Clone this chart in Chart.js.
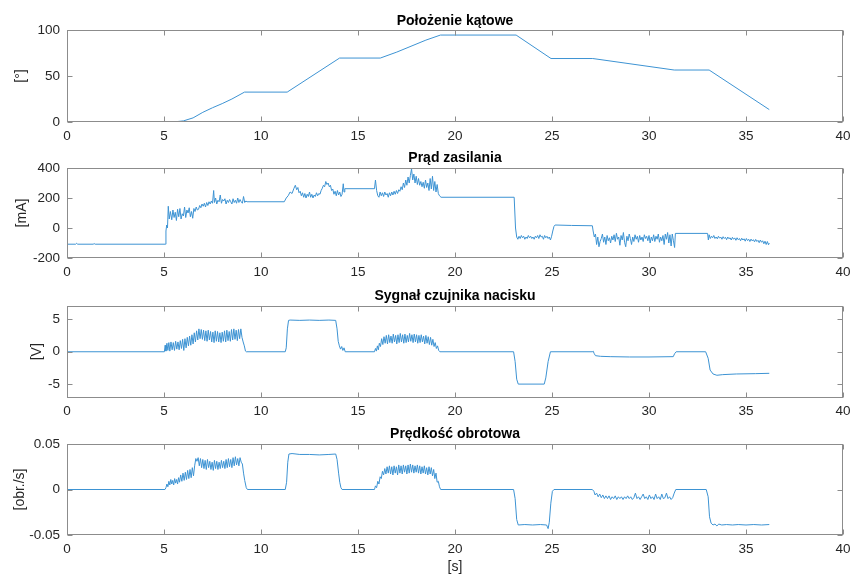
<!DOCTYPE html>
<html>
<head>
<meta charset="utf-8">
<script src="https://cdn.jsdelivr.net/npm/chart.js@4"></script>
<style>
  body { margin: 0; background: #fff; }
  #wrap { position: relative; width: 850px; height: 574px; overflow: hidden; }
  #wrap canvas { position: absolute; left: 0; }
</style>
</head>
<body>
<div id="wrap">
  <canvas id="c1" width="850" height="147" style="top:0px"></canvas>
  <canvas id="c2" width="850" height="145" style="top:138px"></canvas>
  <canvas id="c3" width="850" height="145" style="top:276px"></canvas>
  <canvas id="c4" width="850" height="160" style="top:414px"></canvas>
</div>
<script>
// x axis (time, s)
const timeTicks = [0, 5, 10, 15, 20, 25, 30, 35, 40];

// Położenie kątowe [°]
const angleTicks = [0, 50, 100];
const angleT = [0, 5.2, 5.6, 6.0, 6.5, 7.0, 7.5, 8.0, 8.5, 9.15, 11.35, 14.05, 16.15, 17.0, 18.5, 19.25, 23.15, 24.95, 27.1, 31.3, 33.1, 36.2];
const angleV = [0, 0, 0.3, 1.2, 4.5, 10.5, 15.5, 20, 25, 32.5, 32.5, 69.5, 69.5, 76, 89, 94.5, 94.5, 69, 69, 56.5, 56.5, 13.5];

// Prąd zasilania [mA]
const currentTicks = [-200, 0, 200, 400];
const currentT = [
  0, 0.45, 0.5, 0.55, 1.35, 1.4, 1.45, 5.08,
  5.1, 5.14, 5.18, 5.22, 5.27, 5.33, 5.4, 5.46, 5.52, 5.58, 5.64, 5.7, 5.76, 5.82, 5.88, 5.94, 6.0, 6.06, 6.12, 6.18, 6.24, 6.3, 6.36, 6.42, 6.48, 6.54, 6.6, 6.66, 6.72, 6.78, 6.84, 6.9, 6.96, 7.02, 7.08, 7.14, 7.2, 7.26, 7.32, 7.38, 7.44, 7.5, 7.56, 7.6, 7.66, 7.72, 7.78, 7.84, 7.9, 7.96, 8.02, 8.08, 8.14, 8.2, 8.26, 8.32, 8.38, 8.44, 8.5, 8.56, 8.62, 8.68, 8.74, 8.8, 8.86, 8.92, 8.98, 9.04, 9.1, 9.16, 9.22, 9.28,
  11.2, 11.3, 11.4, 11.5, 11.6, 11.7, 11.77, 11.84, 11.9, 11.96, 12.02, 12.08, 12.14, 12.2, 12.26, 12.32, 12.38, 12.44, 12.5, 12.56, 12.62, 12.68, 12.74, 12.8, 12.86, 12.92, 12.98, 13.04, 13.1, 13.16, 13.22, 13.28, 13.34, 13.4, 13.46, 13.52, 13.58, 13.64, 13.7, 13.76, 13.82, 13.88, 13.94, 14.0, 14.06, 14.12, 14.18, 14.24, 14.28, 14.32,
  15.85, 15.9, 15.96, 16.02, 16.08, 16.14, 16.2, 16.26, 16.32, 16.38, 16.44, 16.5, 16.56, 16.62, 16.68, 16.74, 16.8, 16.86, 16.92, 16.98, 17.04, 17.1, 17.16, 17.22, 17.28, 17.34, 17.4, 17.46, 17.52, 17.58, 17.64, 17.7, 17.76, 17.82, 17.88, 17.94, 18.0, 18.06, 18.12, 18.18, 18.24, 18.3, 18.36, 18.42, 18.48, 18.54, 18.6, 18.66, 18.72, 18.78, 18.84, 18.9, 18.96, 19.02, 19.08, 19.14, 19.2, 19.28,
  23.05, 23.12, 23.18, 23.24, 23.3, 23.36, 23.42, 23.48, 23.54, 23.6, 23.66, 23.72, 23.78, 23.84, 23.9, 23.96, 24.02, 24.08, 24.14, 24.2, 24.26, 24.32, 24.38, 24.44, 24.5, 24.56, 24.62, 24.68, 24.74, 24.8, 24.86, 24.92, 24.98, 25.04, 25.1, 25.16, 26.0, 27.08,
  27.12, 27.18, 27.24, 27.3, 27.36, 27.42, 27.48, 27.54, 27.6, 27.66, 27.72, 27.78, 27.84, 27.9, 27.96, 28.02, 28.08, 28.14, 28.2, 28.26, 28.32, 28.38, 28.44, 28.5, 28.56, 28.62, 28.68, 28.74, 28.8, 28.86, 28.92, 28.98, 29.04, 29.1, 29.16, 29.22, 29.28, 29.34, 29.4, 29.46, 29.52, 29.58, 29.64, 29.7, 29.76, 29.82, 29.88, 29.94, 30.0, 30.06, 30.12, 30.18, 30.24, 30.3, 30.36, 30.42, 30.48, 30.54, 30.6, 30.66, 30.72, 30.78, 30.84, 30.9, 30.96, 31.02, 31.08, 31.14, 31.2, 31.26, 31.32, 31.36,
  33.02, 33.06, 33.1, 33.16, 33.22, 33.28, 33.34, 33.4, 33.46, 33.52, 33.58, 33.64, 33.7, 33.76, 33.82, 33.88, 33.94, 34.0, 34.06, 34.12, 34.18, 34.24, 34.3, 34.36, 34.42, 34.48, 34.54, 34.6, 34.66, 34.72, 34.78, 34.84, 34.9, 34.96, 35.02, 35.08, 35.14, 35.2, 35.26, 35.32, 35.38, 35.44, 35.5, 35.56, 35.62, 35.68, 35.74, 35.8, 35.86, 35.92, 35.98, 36.04, 36.1, 36.16, 36.2
];
const currentV = [
  -108, -108, -102, -108, -108, -104, -108, -108,
  -20, 20, 0, 145, 60, 110, 55, 120, 70, 105, 50, 125, 75, 130, 60, 95, 80, 140, 70, 120, 100, 135, 75, 110, 65, 130, 110, 140, 120, 125, 150, 135, 160, 145, 165, 140, 170, 150, 175, 160, 180, 165, 250, 170, 200, 160, 185, 175, 220, 165, 190, 180, 195, 160, 185, 170, 190, 175, 160, 195, 170, 185, 165, 200, 170, 190, 175, 165, 210, 170, 180, 175,
  175, 200, 215, 240, 230, 265, 285, 255, 270, 235, 245, 215, 235, 205, 230, 200, 225, 210, 240, 205, 225, 200, 220, 210, 235, 215, 230, 225, 250, 265, 285, 275, 310, 290, 300, 275, 285, 250, 260, 225, 245, 215, 250, 220, 240, 210, 225, 295, 240, 262,
  262, 320, 250, 215, 205, 240, 215, 235, 210, 240, 220, 230, 205, 235, 215, 240, 220, 245, 225, 250, 230, 255, 245, 275, 255, 300, 270, 320, 285, 340, 300, 350, 395, 320, 360, 300, 345, 290, 330, 285, 310, 275, 305, 265, 320, 270, 300, 250, 330, 260, 345, 250, 310, 240, 290, 230, 215, 205,
  205, 0, -60, -75, -55, -70, -50, -65, -55, -75, -60, -70, -50, -65, -55, -70, -60, -75, -55, -65, -50, -70, -45, -60, -55, -75, -50, -65, -55, -70, -60, -80, -55, -20, 10, 20, 17, 15,
  -20, -60, -40, -110, -60, -125, -90, -70, -40, -95, -60, -110, -50, -85, -65, -100, -55, -80, -45, -90, -35, -75, -60, -115, -50, -80, -30, -95, -125, -55, -85, -40, -70, -110, -60, -90, -45, -75, -55, -95, -50, -80, -60, -90, -45, -70, -55, -85, -50, -100, -60, -85, -45, -90, -55, -75, -40, -95, -60, -85, -50, -110, -40, -75, -30, -100, -45, -120, -40, -85, -130, -36,
  -36, -80, -45, -70, -55, -65, -50, -70, -60, -72, -55, -68, -60, -75, -58, -70, -62, -78, -60, -72, -65, -80, -62, -75, -66, -82, -65, -78, -70, -85, -68, -80, -72, -88, -70, -84, -75, -90, -74, -86, -78, -92, -76, -90, -82, -98, -80, -95, -85, -105, -88, -110, -90, -112, -100
];

// Sygnał czujnika nacisku [V]
const sensorTicks = [-5, 0, 5];
const sensorT = [
  0, 5.02,
  5.06, 5.1, 5.15, 5.2, 5.25, 5.3, 5.36, 5.42, 5.48, 5.54, 5.6, 5.66, 5.72, 5.78, 5.84, 5.9, 5.96, 6.02, 6.08, 6.14, 6.2, 6.26, 6.32, 6.38, 6.44, 6.5, 6.56, 6.62, 6.68, 6.74, 6.8, 6.86, 6.92, 6.98, 7.04, 7.1, 7.16, 7.22, 7.28, 7.34, 7.4, 7.46, 7.52, 7.58, 7.64, 7.7, 7.76, 7.82, 7.88, 7.94, 8.0, 8.06, 8.12, 8.18, 8.24, 8.3, 8.36, 8.42, 8.48, 8.54, 8.6, 8.66, 8.72, 8.78, 8.84, 8.9, 8.96, 9.02, 9.08, 9.14, 9.2, 9.24,
  11.25, 11.3, 11.36, 11.42, 11.5, 12.0, 12.5, 13.0, 13.5, 13.85, 13.92, 13.98, 14.04, 14.1, 14.16, 14.22, 14.28, 14.34,
  15.85, 15.9, 15.95, 16.0, 16.05, 16.1, 16.16, 16.22, 16.28, 16.34, 16.4, 16.46, 16.52, 16.58, 16.64, 16.7, 16.76, 16.82, 16.88, 16.94, 17.0, 17.06, 17.12, 17.18, 17.24, 17.3, 17.36, 17.42, 17.48, 17.54, 17.6, 17.66, 17.72, 17.78, 17.84, 17.9, 17.96, 18.02, 18.08, 18.14, 18.2, 18.26, 18.32, 18.38, 18.44, 18.5, 18.56, 18.62, 18.68, 18.74, 18.8, 18.86, 18.92, 18.98, 19.04, 19.1, 19.16, 19.22,
  23.02, 23.1, 23.18, 23.26, 24.6, 24.68, 24.8, 24.92,
  27.08, 27.12, 27.18, 27.24, 27.5, 28.0, 29.0, 30.0, 31.25, 31.32, 31.4,
  32.92, 33.05, 33.15, 33.3, 33.5, 33.8, 34.5, 35.5, 36.2
];
const sensorV = [
  0, 0,
  1.0, 0.1, 1.3, 0.2, 1.4, 0.1, 1.5, 0.3, 1.4, 0.2, 1.6, 0.4, 1.5, 0.3, 1.7, 0.5, 1.9, 0.2, 2.0, 0.6, 2.2, 0.9, 2.4, 1.0, 2.6, 1.2, 2.9, 1.5, 3.2, 1.8, 3.5, 2.0, 3.4, 1.9, 3.3, 1.7, 3.2, 1.6, 3.3, 1.8, 3.1, 1.5, 3.0, 1.4, 3.2, 1.6, 3.1, 1.5, 2.9, 1.4, 3.0, 1.6, 3.2, 1.5, 3.3, 1.7, 3.1, 1.6, 3.4, 1.8, 3.5, 1.9, 3.3, 1.7, 3.4, 2.0, 3.5, 2.2, 1.5, 0.9, 0.1, 0,
  0, 0.6, 3.5, 4.8, 4.85, 4.8, 4.85, 4.8, 4.85, 4.8, 3.5, 1.6, 0.9, 0.4, 0.8, 0.2, 0.6, 0,
  0, 0.5, 0.1, 0.9, 0.3, 1.3, 0.8, 2.0, 1.1, 2.3, 1.3, 2.5, 1.2, 2.6, 1.4, 2.4, 1.3, 2.7, 1.5, 2.5, 1.2, 2.6, 1.4, 2.8, 1.5, 2.6, 1.3, 2.7, 1.4, 2.5, 1.5, 2.8, 1.6, 2.6, 1.4, 2.7, 1.5, 2.6, 1.3, 2.5, 1.4, 2.6, 1.5, 2.4, 1.2, 2.5, 1.3, 2.3, 1.1, 2.2, 1.0, 1.9, 0.8, 1.4, 0.5, 0.9, 0.2, 0,
  0, -1.5, -4.2, -4.95, -4.95, -4.0, -1.5, 0,
  0, 0.1, -0.3, -0.6, -0.7, -0.75, -0.8, -0.8, -0.75, -0.3, 0,
  0, -1.0, -2.8, -3.4, -3.6, -3.5, -3.4, -3.35, -3.3
];

// Prędkość obrotowa [obr./s]
const speedTicks = [-0.05, 0, 0.05];
const speedT = [
  0, 5.05,
  5.1, 5.15, 5.2, 5.25, 5.3, 5.35, 5.4, 5.45, 5.5, 5.55, 5.6, 5.65, 5.7, 5.75, 5.8, 5.86, 5.92, 5.98, 6.04, 6.1, 6.16, 6.22, 6.28, 6.34, 6.4, 6.46, 6.52, 6.58, 6.64, 6.7, 6.76, 6.82, 6.88, 6.94, 7.0, 7.06, 7.12, 7.18, 7.24, 7.3, 7.36, 7.42, 7.48, 7.54, 7.6, 7.66, 7.72, 7.78, 7.84, 7.9, 7.96, 8.02, 8.08, 8.14, 8.2, 8.26, 8.32, 8.38, 8.44, 8.5, 8.56, 8.62, 8.68, 8.74, 8.8, 8.86, 8.92, 8.98, 9.04, 9.1, 9.16, 9.24, 9.3,
  11.25, 11.32, 11.38, 11.44, 11.6, 12.0, 12.5, 13.0, 13.5, 13.85, 13.92, 14.0, 14.06, 14.12, 14.18,
  15.85, 15.9, 15.96, 16.02, 16.08, 16.14, 16.2, 16.26, 16.32, 16.38, 16.44, 16.5, 16.56, 16.62, 16.68, 16.74, 16.8, 16.86, 16.92, 16.98, 17.04, 17.1, 17.16, 17.22, 17.28, 17.34, 17.4, 17.46, 17.52, 17.58, 17.64, 17.7, 17.76, 17.82, 17.88, 17.94, 18.0, 18.06, 18.12, 18.18, 18.24, 18.3, 18.36, 18.42, 18.48, 18.54, 18.6, 18.66, 18.72, 18.78, 18.84, 18.9, 18.96, 19.02, 19.08, 19.14, 19.2, 19.26,
  23.02, 23.1, 23.18, 23.26, 23.6, 24.0, 24.4, 24.72, 24.8, 24.86, 24.94, 25.02, 25.1,
  27.08, 27.16, 27.22, 27.3, 27.38, 27.46, 27.54, 27.62, 27.7, 27.78, 27.86, 27.94, 28.02, 28.1, 28.18, 28.26, 28.34, 28.42, 28.5, 28.58, 28.66, 28.74, 28.82, 28.9, 28.98, 29.06, 29.14, 29.22, 29.3, 29.38, 29.46, 29.54, 29.62, 29.7, 29.78, 29.86, 29.94, 30.02, 30.1, 30.18, 30.26, 30.34, 30.42, 30.5, 30.58, 30.66, 30.74, 30.82, 30.9, 30.98, 31.06, 31.14, 31.22, 31.3, 31.38,
  32.95, 33.05, 33.12, 33.2, 33.3, 33.4, 33.5, 33.6, 33.75, 34.0, 34.3, 34.6, 35.0, 35.4, 35.8, 36.2
];
const speedV = [
  0, 0,
  0.002, 0.006, 0.003, 0.009, 0.005, 0.011, 0.006, 0.010, 0.005, 0.012, 0.007, 0.011, 0.006, 0.013, 0.008, 0.016, 0.009, 0.018, 0.010, 0.019, 0.011, 0.021, 0.012, 0.022, 0.013, 0.024, 0.015, 0.026, 0.034, 0.031, 0.035, 0.026, 0.034, 0.024, 0.033, 0.023, 0.032, 0.022, 0.033, 0.024, 0.031, 0.022, 0.030, 0.021, 0.032, 0.023, 0.031, 0.022, 0.030, 0.023, 0.032, 0.024, 0.031, 0.023, 0.033, 0.024, 0.034, 0.025, 0.033, 0.024, 0.035, 0.026, 0.036, 0.027, 0.034, 0.026, 0.035, 0.030, 0.028, 0.018, 0.010, 0.002, 0,
  0, 0.008, 0.030, 0.039, 0.0395, 0.0385, 0.0385, 0.038, 0.0385, 0.039, 0.033, 0.018, 0.008, 0.002, 0,
  0, 0.004, 0.002, 0.009, 0.006, 0.014, 0.012, 0.020, 0.016, 0.023, 0.017, 0.025, 0.018, 0.026, 0.017, 0.025, 0.016, 0.026, 0.018, 0.025, 0.016, 0.027, 0.018, 0.026, 0.017, 0.027, 0.019, 0.026, 0.017, 0.027, 0.018, 0.028, 0.019, 0.027, 0.018, 0.026, 0.019, 0.027, 0.018, 0.026, 0.017, 0.025, 0.018, 0.026, 0.017, 0.024, 0.016, 0.025, 0.017, 0.024, 0.015, 0.022, 0.012, 0.018, 0.008, 0.009, 0.003, 0,
  0, -0.010, -0.033, -0.039, -0.0385, -0.039, -0.0385, -0.039, -0.043, -0.036, -0.015, -0.002, 0,
  0, -0.002, -0.006, -0.004, -0.008, -0.005, -0.009, -0.006, -0.010, -0.007, -0.010, -0.007, -0.011, -0.008, -0.010, -0.007, -0.011, -0.008, -0.010, -0.008, -0.011, -0.008, -0.010, -0.007, -0.010, -0.008, -0.011, -0.009, -0.004, -0.010, -0.008, -0.011, -0.008, -0.005, -0.010, -0.008, -0.011, -0.006, -0.010, -0.008, -0.011, -0.005, -0.010, -0.008, -0.011, -0.005, -0.010, -0.009, -0.004, -0.010, -0.008, -0.011, -0.009, -0.004, 0,
  0, -0.008, -0.030, -0.037, -0.039, -0.038, -0.040, -0.038, -0.039, -0.0385, -0.039, -0.0385, -0.039, -0.0385, -0.039, -0.0385
];

const FONT = "'Liberation Sans', Arial, Helvetica, sans-serif";
const LINE = '#3d93d3';
const AXIS = '#8c8c8c';
const TEXT = '#262626';

// MATLAB-like box with inward ticks on all four sides
const boxPlugin = {
  id: 'box',
  afterDraw(chart) {
    const { ctx, chartArea: a, scales } = chart;
    const L = Math.round(a.left) + 0.5, R = Math.round(a.right) - 0.5;
    const T = Math.round(a.top) + 0.5, B = Math.round(a.bottom) - 0.5;
    ctx.save();
    ctx.strokeStyle = AXIS;
    ctx.lineWidth = 1;
    ctx.strokeRect(L, T, R - L, B - T);
    ctx.beginPath();
    scales.x.ticks.forEach(t => {
      const px = Math.round(scales.x.getPixelForValue(t.value)) + 0.5;
      ctx.moveTo(px, B); ctx.lineTo(px, B - 5);
      ctx.moveTo(px, T); ctx.lineTo(px, T + 5);
    });
    scales.y.ticks.forEach(t => {
      const py = Math.round(scales.y.getPixelForValue(t.value)) + 0.5;
      ctx.moveTo(L, py); ctx.lineTo(L + 5, py);
      ctx.moveTo(R, py); ctx.lineTo(R - 5, py);
    });
    ctx.stroke();
    ctx.restore();
  }
};

function makeChart(id, opt) {
  const canvas = document.getElementById(id);
  const H = canvas.height;
  const points = opt.t.map((t, i) => ({ x: t, y: opt.v[i] }));
  return new Chart(canvas, {
    type: 'line',
    data: { datasets: [{ data: points, borderColor: LINE, borderWidth: 1, pointRadius: 0, tension: 0, fill: false }] },
    plugins: [boxPlugin],
    options: {
      responsive: false,
      animation: false,
      events: [],
      layout: { padding: { left: opt.padLeft, right: 0, top: 0, bottom: 0 } },
      plugins: {
        legend: { display: false },
        tooltip: { enabled: false },
        title: {
          display: true,
          text: opt.title,
          fullSize: false,
          color: '#000',
          font: { family: FONT, size: 14, weight: 'bold' },
          padding: { top: opt.titleTop, bottom: 30 - opt.titleTop - 16.8 }
        }
      },
      scales: {
        x: {
          type: 'linear',
          min: 0, max: 40,
          afterBuildTicks: s => { s.ticks = timeTicks.map(v => ({ value: v })); },
          afterFit: s => { s.height = H - opt.plotBottom; s.paddingLeft = 0; s.paddingRight = 7; },
          grid: { display: false, drawTicks: false },
          border: { display: false },
          ticks: { padding: 6, color: TEXT, font: { family: FONT, size: 13.5 }, maxRotation: 0, callback: v => String(v) },
          title: opt.xTitle ? { display: true, text: opt.xTitle, color: TEXT, font: { family: FONT, size: 14, lineHeight: 1 }, padding: 0 } : { display: false }
        },
        y: {
          min: opt.yMin, max: opt.yMax,
          afterBuildTicks: s => { s.ticks = opt.yTicks.map(v => ({ value: v })); },
          afterFit: s => { s.width = 67 - opt.padLeft; },
          grid: { display: false, drawTicks: false },
          border: { display: false },
          ticks: { padding: 7, color: TEXT, font: { family: FONT, size: 13.5 }, callback: v => String(v) },
          title: { display: true, text: opt.yTitle, color: TEXT, font: { family: FONT, size: 14 }, padding: { top: 4, bottom: 4 } }
        }
      }
    }
  });
}

makeChart('c1', { t: angleT, v: angleV, yTicks: angleTicks, yMin: 0, yMax: 100, title: 'Położenie kątowe', yTitle: '[°]', padLeft: 9, titleTop: 12.3, plotBottom: 122 });
makeChart('c2', { t: currentT, v: currentV, yTicks: currentTicks, yMin: -200, yMax: 400, title: 'Prąd zasilania', yTitle: '[mA]', padLeft: 10, titleTop: 11.3, plotBottom: 120 });
makeChart('c3', { t: sensorT, v: sensorV, yTicks: sensorTicks, yMin: -7, yMax: 7, title: 'Sygnał czujnika nacisku', yTitle: '[V]', padLeft: 25, titleTop: 11.6, plotBottom: 121.5 });
makeChart('c4', { t: speedT, v: speedV, yTicks: speedTicks, yMin: -0.05, yMax: 0.05, title: 'Prędkość obrotowa', yTitle: '[obr./s]', padLeft: 7.6, titleTop: 11.6, plotBottom: 121, xTitle: '[s]' });
</script>
</body>
</html>
